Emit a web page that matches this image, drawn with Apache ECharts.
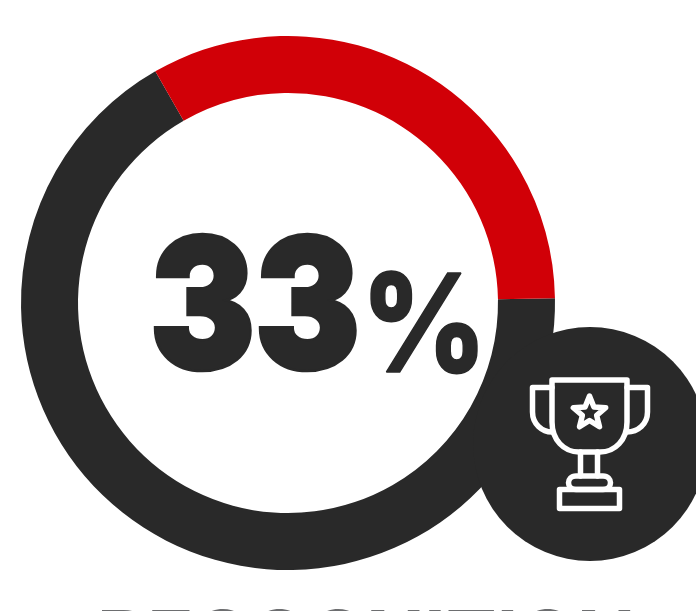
<!DOCTYPE html>
<html>
<head>
<meta charset="utf-8">
<style>html,body{margin:0;padding:0;background:#fff}#chart{width:696px;height:611px}</style>
<script src="https://cdn.jsdelivr.net/npm/echarts@6/dist/echarts.min.js"></script>
</head>
<body>
<div id="chart"></div>
<script>
// Share of the ring taken by the highlighted metric
const categories = ['Other', 'Recognition'];
const shareValues = [67, 33];
const caption = 'RECOGNITION';

const INK = '#292929';
const RED = '#d10007';
const ICON_STROKE = 5.5;

// Five-pointed star path for the trophy emblem
function starPath(cx, cy, outer, inner) {
  let d = '';
  for (let i = 0; i < 10; i++) {
    const r = i % 2 ? inner : outer;
    const a = -Math.PI / 2 + i * Math.PI / 5;
    d += (i ? 'L' : 'M') + (cx + r * Math.cos(a)).toFixed(2) + ' ' + (cy + r * Math.sin(a)).toFixed(2);
  }
  return d + 'Z';
}

const trophyPaths = [
  // cup
  'M552 380 L627 380 L627 422 C627 440 615 452 600 452 L579 452 C564 452 552 440 552 422 Z',
  // handles
  'M552 387.5 L532.5 387.5 L532.5 412 C532.5 424 542 432 552 432',
  'M627 387.5 L647.5 387.5 L647.5 412 C647.5 424 638 432 627 432',
  // stem
  'M580.5 452 L580.5 476 M597.5 452 L597.5 476',
  // upper base
  'M576 476 L603 476 C613 476 613 489.5 603 489.5 L576 489.5 C566 489.5 566 476 576 476 Z',
  // lower base
  'M559.5 489.5 L619.5 489.5 L619.5 508.5 L559.5 508.5 Z',
  // star emblem
  starPath(589.5, 413, 17, 7.5)
];

// Each icon stroke becomes a named shape usable from the graphic component
trophyPaths.forEach((d, i) => {
  echarts.graphic.registerShape('trophy' + i, echarts.graphic.extendPath(d, {}));
});

const chart = echarts.init(document.getElementById('chart'), null, { renderer: 'canvas' });
chart.setOption({
  backgroundColor: '#ffffff',
  animation: false,
  series: [
    {
      type: 'pie',
      silent: true,
      center: [288, 303],
      radius: [210, 267],
      startAngle: 1,
      clockwise: true,
      label: { show: false },
      labelLine: { show: false },
      data: categories.map((name, i) => ({
        name,
        value: shareValues[i],
        itemStyle: { color: i === 1 ? RED : INK }
      }))
    }
  ],
  graphic: [
    { type: 'circle', silent: true, z: 5, shape: { cx: 590, cy: 444, r: 117 }, style: { fill: INK } },
    ...trophyPaths.map((d, i) => ({
      type: 'trophy' + i,
      silent: true,
      z: 6,
      style: { fill: 'none', stroke: '#ffffff', lineWidth: ICON_STROKE, lineJoin: 'round', lineCap: 'round' }
    })),
    {
      type: 'text', silent: true, z: 6, x: 150, y: 314, scaleX: 0.81, scaleY: 0.93,
      style: {
        text: String(shareValues[1]),
        fill: INK,
        stroke: INK,
        lineWidth: 5,
        font: '900 194px Inter',
        textAlign: 'left',
        textVerticalAlign: 'middle'
      }
    },
    {
      type: 'text', silent: true, z: 6, x: 361, y: 331, scaleX: 0.9, scaleY: 1,
      style: {
        text: '%',
        fill: INK,
        stroke: INK,
        lineWidth: 1.5,
        font: '800 136px Inter',
        textAlign: 'left',
        textVerticalAlign: 'middle'
      }
    },
    {
      type: 'text', silent: true, z: 6, x: 97, y: 605, scaleX: 1.157, scaleY: 1,
      style: {
        text: caption,
        fill: '#6d6e70',
        font: '700 66px Inter',
        textAlign: 'left',
        textVerticalAlign: 'top'
      }
    }
  ]
});
</script>
</body>
</html>
